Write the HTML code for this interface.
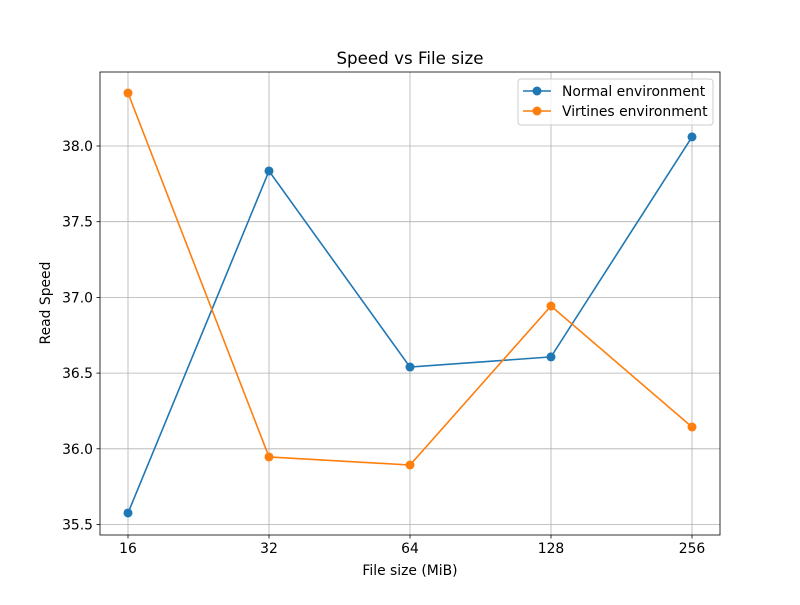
<!DOCTYPE html>
<html><head><meta charset="utf-8"><style>
body{margin:0;background:#fff;}
svg text{font-family:"DejaVu Sans","Liberation Sans",sans-serif;}
</style></head><body>
<svg id="chart" width="800" height="600"></svg>
<script>
const categories=["16","32","64","128","256"];
const normalValues=[35.576,37.835,36.54,36.607,38.06];
const virtinesValues=[38.35,35.946,35.893,36.943,36.144];
const yTicks=[35.5,36.0,36.5,37.0,37.5,38.0];
const yTickLabels=["35.5","36.0","36.5","37.0","37.5","38.0"];

const NS="http://www.w3.org/2000/svg";
const svg=document.getElementById('chart');
const L=100,R=720,T=72,B=535;
const FS=13.9;
function xs(i){return 128+i*141;}
function ys(v){return 146+(38-v)*151.4;}
function mk(tag,attrs,parent){const e=document.createElementNS(NS,tag);for(const k in attrs)e.setAttribute(k,attrs[k]);(parent||svg).appendChild(e);return e;}

const grid=mk('g',{});


categories.forEach((c,i)=>{
  mk('line',{x1:xs(i),x2:xs(i),y1:T,y2:B,stroke:'#b0b0b0','stroke-width':0.8},grid);
  mk('line',{x1:xs(i),x2:xs(i),y1:B,y2:B+3.5,stroke:'#000','stroke-width':0.8});
  const t=mk('text',{x:xs(i),y:B+18,'text-anchor':'middle','font-size':FS});
  t.textContent=c;
  
  
});
yTicks.forEach((v,i)=>{
  mk('line',{x1:L,x2:R,y1:ys(v),y2:ys(v),stroke:'#b0b0b0','stroke-width':0.8},grid);
  mk('line',{x1:L-3.5,x2:L,y1:ys(v),y2:ys(v),stroke:'#000','stroke-width':0.8});
  const t=mk('text',{x:L-7,y:ys(v)+5,'text-anchor':'end','font-size':FS});
  t.textContent=yTickLabels[i];
  
  
});

function series(vals,color,name){
  const g=mk('g',{});
  
  
  mk('polyline',{points:vals.map((v,i)=>xs(i)+','+ys(v)).join(' '),fill:'none',stroke:color,'stroke-width':1.6},g);
  vals.forEach((v,i)=>{
    const c=mk('circle',{cx:xs(i),cy:ys(v),r:4.5,fill:color},g);
    
    
  });
}
series(normalValues,'#1f77b4','normal-series');
series(virtinesValues,'#ff7f0e','virtines-series');

const frame=mk('rect',{x:L,y:T,width:R-L,height:B-T,fill:'none',stroke:'#000','stroke-width':0.8});



const title=mk('text',{x:410,y:64,'text-anchor':'middle','font-size':16.7});
title.textContent='Speed vs File size';


const xt=mk('text',{x:410,y:575,'text-anchor':'middle','font-size':FS});
xt.textContent='File size (MiB)';


const yt=mk('text',{x:50,y:303,'text-anchor':'middle','font-size':FS,transform:'rotate(-90 50 303)'});
yt.textContent='Read Speed';



const lg=mk('g',{});


mk('rect',{x:518,y:79,width:195,height:46,rx:3,fill:'#fff','fill-opacity':0.8,stroke:'#ccc'},lg);
[['Normal environment','#1f77b4',91],['Virtines environment','#ff7f0e',111]].forEach(([n,c,y])=>{
  const e=mk('g',{},lg);
  
  
  mk('line',{x1:523,x2:551,y1:y,y2:y,stroke:c,'stroke-width':1.6},e);
  mk('circle',{cx:537,cy:y,r:4.5,fill:c},e);
  const t=mk('text',{x:562,y:y+5,'font-size':FS},e);
  t.textContent=n;
});
</script>
</body></html>
